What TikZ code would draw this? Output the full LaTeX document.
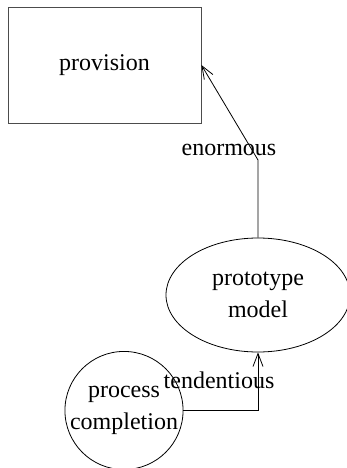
\documentclass[tikz,border=0pt]{standalone}
\usepackage{fontspec}
\setmainfont{Liberation Serif}
\usetikzlibrary{shapes.geometric,arrows.meta}
\begin{document}
\begin{tikzpicture}[x=1pt,y=1pt,
  every node/.style={font=\fontsize{24}{32}\selectfont, inner sep=0pt},
  boxnode/.style={draw=black!70, line width=0.8pt, rectangle, minimum width=193pt, minimum height=116pt},
  ellnode/.style={draw, line width=0.8pt, ellipse, minimum width=184pt, minimum height=114pt, align=center},
  circnode/.style={draw, line width=0.8pt, circle, minimum size=116pt, align=center},
  conn/.style={draw, line width=0.8pt, -{Straight Barb[length=13pt,width=10pt]}},
  lbl/.style={}
]
\useasboundingbox (0,0) rectangle (346,-468);
\node[boxnode] (prov) at (104.5,-65) {provision};
\node[ellnode] (model) at (258,-295) {prototype\\model};
\node[circnode] (comp) at (124,-410.5) {process\\completion};
\coordinate (bend) at (258,-160);
\draw[conn] (model.north) -- (bend) -- (prov.east);
\draw[conn] (comp.east) -| (model.south);
\node[lbl] (l1) at (229,-150) {enormous};
\node[lbl] (l2) at (219,-380) {tendentious};
\end{tikzpicture}
\end{document}
